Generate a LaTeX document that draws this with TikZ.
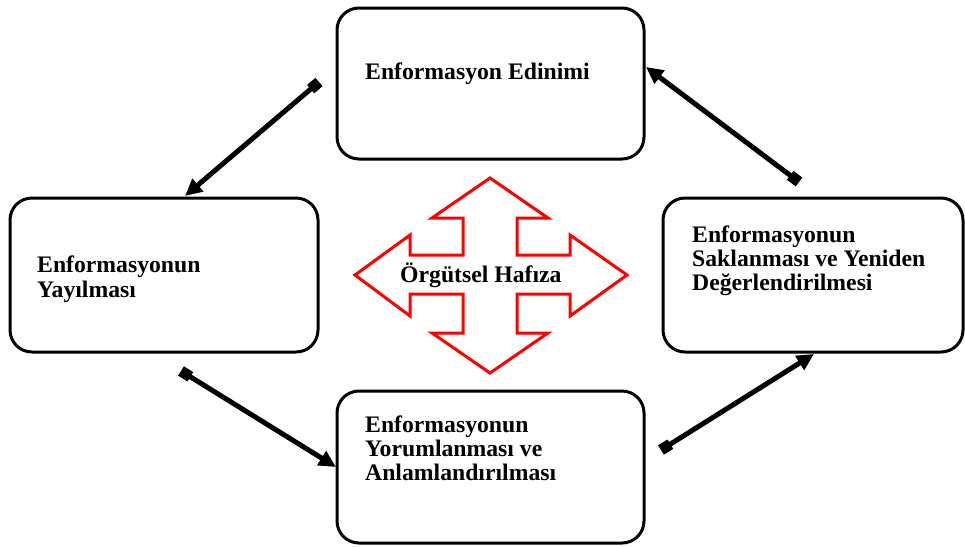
\documentclass[tikz,border=0pt]{standalone}
\usepackage{fontspec}
\setmainfont{Liberation Serif}
\usetikzlibrary{arrows.meta}
\begin{document}
\begin{tikzpicture}[x=1pt,y=-1pt,
  box/.style={draw=black, line width=3pt, rounded corners=22pt, inner sep=0pt, outer sep=0pt},
  lbl/.style={font=\fontsize{23.7}{25}\selectfont\bfseries, anchor=base west, inner sep=0pt, align=left},
  conn/.style={line width=5pt, {Square[length=11pt,width=11pt]}-{Triangle[length=17pt,width=16pt]}},
  hub/.style={draw=red, line width=3pt, line join=miter}
]
\useasboundingbox (0,0) rectangle (965,546);
% boxes
\node[box, minimum width=307pt, minimum height=151pt] (topbox) at (490.5,83.5) {};
\node[box, minimum width=308pt, minimum height=154pt] (leftbox) at (164,275) {};
\node[box, minimum width=300pt, minimum height=154pt] (rightbox) at (813,275) {};
\node[box, minimum width=307pt, minimum height=152pt] (botbox) at (490.5,467) {};
% labels
\node[lbl] (ttop) at (365,79) {Enformasyon Edinimi};
\node[lbl] (tleft1) at (37,272) {Enformasyonun};
\node[lbl] (tleft2) at (37,297) {Yayılması};
\node[lbl] (tright1) at (692,242) {Enformasyonun};
\node[lbl] (tright2) at (692,266) {Saklanması ve Yeniden};
\node[lbl] (tright3) at (692,290) {Değerlendirilmesi};
\node[lbl] (tbot1) at (365,432) {Enformasyonun};
\node[lbl] (tbot2) at (365,456) {Yorumlanması ve};
\node[lbl] (tbot3) at (365,480) {Anlamlandırılması};
% central four-way arrow
\draw[hub] (490,178) -- (548,218) -- (517,218) -- (517,255) -- (570,255) -- (570,235)
  -- (627,275) -- (570,316) -- (570,294) -- (517,294) -- (517,333) -- (548,333)
  -- (490,373) -- (432,333) -- (463,333) -- (463,294) -- (410,294) -- (410,316)
  -- (355,275) -- (410,235) -- (410,255) -- (463,255) -- (463,218) -- (432,218) -- cycle;
\node[lbl] (hubtext) at (400,282) {Örgütsel Hafıza};
% connector end points
\coordinate (a1) at (319,82);
\coordinate (a2) at (185,196);
\coordinate (b1) at (799,182);
\coordinate (b2) at (646,67);
\coordinate (c1) at (181,371);
\coordinate (c2) at (336,467);
\coordinate (d1) at (661,450);
\coordinate (d2) at (814,354);
\draw[conn] (a1) -- (a2);
\draw[conn] (b1) -- (b2);
\draw[conn] (c1) -- (c2);
\draw[conn] (d1) -- (d2);
\end{tikzpicture}
\end{document}
